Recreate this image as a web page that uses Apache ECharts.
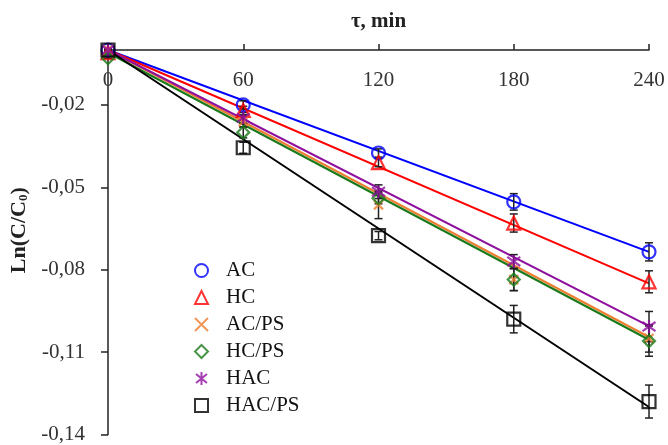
<!DOCTYPE html>
<html>
<head>
<meta charset="utf-8">
<script src="https://cdn.jsdelivr.net/npm/echarts@6/dist/echarts.min.js"></script>
<style>
  html, body { margin: 0; padding: 0; background: #fff; }
  #main { width: 668px; height: 445px; }
</style>
</head>
<body>
<div id="main"></div>
<script>
var times = [0, 60, 120, 180, 240];
var yTicks = [-0.14, -0.11, -0.08, -0.05, -0.02];

var names = ['AC', 'HC', 'AC/PS', 'HC/PS', 'HAC', 'HAC/PS'];

// measured Ln(C/C0)
var acVals = [0, -0.020, -0.0375, -0.0553, -0.0735];
var hcVals = [-0.001, -0.022, -0.041, -0.063, -0.0844];
var acpsVals = [0, -0.026, -0.0564, -0.0836, -0.105];
var hcpsVals = [-0.003, -0.030, -0.054, -0.0836, -0.106];
var hacVals = [0, -0.0247, -0.0516, -0.077, -0.1007];
var hacpsVals = [0, -0.0356, -0.0676, -0.098, -0.128];

// error bars (+/-)
var acErr = [0.0005, 0.0015, 0.0015, 0.003, 0.0033];
var hcErr = [0.0005, 0.0015, 0.0015, 0.0033, 0.004];
var acpsErr = [0, 0.002, 0.005, 0.004, 0.005];
var hcpsErr = [0, 0.002, 0.002, 0.004, 0.0055];
var hacErr = [0, 0.002, 0.0025, 0.0025, 0.0055];
var hacpsErr = [0, 0.002, 0.0015, 0.005, 0.006];

// linear fit lines: value at 0 and at 240 min
var fitStart = [0, 0, 0, -0.001, 0, 0];
var fitEnd = [-0.0735, -0.085, -0.1045, -0.1055, -0.1005, -0.130];

var allVals = [acVals, hcVals, acpsVals, hcpsVals, hacVals, hacpsVals];
var allErr = [acErr, hcErr, acpsErr, hcpsErr, hacErr, hacpsErr];
var colors = ['#0000ff', '#ff0000', '#ed7d31', '#1a7a1a', '#8e0e9e', '#000000'];
var symbols = [
  'circle',
  'triangle',
  'path://M0,0L10,10M10,0L0,10',
  'diamond',
  'path://M5,0L5,10M0.8,1.5L9.2,8.5M0.8,8.5L9.2,1.5',
  'rect'
];
var symbolSizes = [13, 13, 9, 12, 13, 13];

var font = 'Liberation Serif';

function fmt(v) {
  return v.toFixed(2).replace('.', ',');
}

var series = [];
for (var i = 0; i < names.length; i++) {
  series.push({
    name: names[i] + ' fit',
    type: 'line',
    data: [[0, fitStart[i]], [240, fitEnd[i]]],
    symbol: 'none',
    silent: true,
    lineStyle: { color: colors[i], width: 2 },
    z: 2
  });
}
for (var i = 0; i < names.length; i++) {
  var errData = [];
  for (var j = 0; j < times.length; j++) {
    errData.push([times[j], allVals[i][j], allErr[i][j]]);
  }
  series.push({
    name: names[i] + ' err',
    type: 'custom',
    data: errData,
    z: 3,
    renderItem: function (params, api) {
      var x = api.value(0), y = api.value(1), e = api.value(2);
      var top = api.coord([x, y + e]);
      var bot = api.coord([x, y - e]);
      var st = { stroke: '#222', lineWidth: 1.5 };
      return {
        type: 'group',
        children: [
          { type: 'line', shape: { x1: top[0], y1: top[1], x2: bot[0], y2: bot[1] }, style: st },
          { type: 'line', shape: { x1: top[0] - 4, y1: top[1], x2: top[0] + 4, y2: top[1] }, style: st },
          { type: 'line', shape: { x1: bot[0] - 4, y1: bot[1], x2: bot[0] + 4, y2: bot[1] }, style: st }
        ]
      };
    }
  });
}
for (var i = 0; i < names.length; i++) {
  var pts = [];
  for (var j = 0; j < times.length; j++) {
    pts.push([times[j], allVals[i][j]]);
  }
  series.push({
    name: names[i],
    type: 'scatter',
    data: pts,
    symbol: symbols[i],
    symbolSize: symbolSizes[i],
    itemStyle: {
      color: 'rgba(255,255,255,0)',
      borderColor: colors[i],
      borderWidth: 2.2
    },
    z: 4
  });
}

var chart = echarts.init(document.getElementById('main'));
chart.setOption({
  animation: false,
  backgroundColor: '#fff',
  grid: { left: 108, right: 19, top: 50, bottom: 9 },
  legend: {
    data: names,
    orient: 'vertical',
    left: 189,
    top: 255,
    itemWidth: 13,
    itemHeight: 13,
    itemGap: 6,
    textStyle: { fontFamily: font, fontSize: 21, color: '#111', padding: [0, 0, 0, 13] }
  },
  xAxis: {
    type: 'value',
    position: 'top',
    min: 0,
    max: 240,
    interval: 60,
    name: 'τ, min',
    nameLocation: 'middle',
    nameGap: 18,
    nameTextStyle: { fontFamily: font, fontSize: 21, fontWeight: 'bold', color: '#222' },
    axisLine: { onZero: false, lineStyle: { color: '#222', width: 1.5 } },
    axisTick: { inside: false, length: 6, lineStyle: { color: '#222', width: 1.5 } },
    axisLabel: { inside: true, margin: 20, fontFamily: font, fontSize: 21, color: '#333' },
    splitLine: { show: false }
  },
  yAxis: {
    type: 'value',
    min: -0.14,
    max: 0,
    name: 'Ln(C/C{sub|0})',
    nameLocation: 'middle',
    nameRotate: 90,
    nameGap: 78,
    nameTextStyle: {
      fontFamily: font, fontSize: 22, fontWeight: 'bold', color: '#222',
      padding: [0, 0, 0, 24],
      rich: { sub: { fontFamily: font, fontSize: 13, fontWeight: 'bold', verticalAlign: 'bottom', padding: [9, 0, 0, 0] } }
    },
    axisLine: { onZero: false, lineStyle: { color: '#222', width: 1.5 } },
    axisTick: { customValues: yTicks, length: 7, lineStyle: { color: '#222', width: 1.5 } },
    axisLabel: {
      customValues: yTicks,
      margin: 23,
      fontFamily: font, fontSize: 21, color: '#333',
      formatter: function (v) { return fmt(v); }
    },
    splitLine: { show: false }
  },
  series: series
});
</script>
</body>
</html>
